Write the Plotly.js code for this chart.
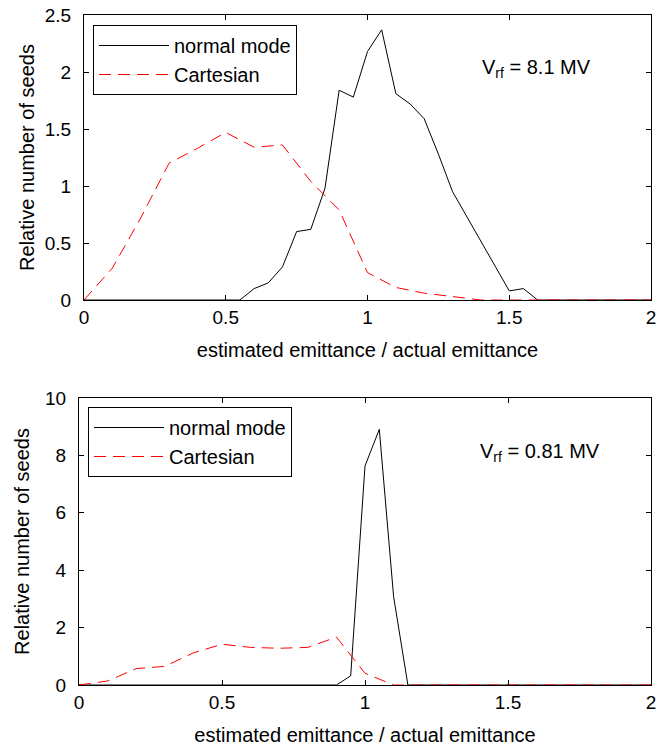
<!DOCTYPE html>
<html><head><meta charset="utf-8">
<script src="https://cdn.plot.ly/plotly-3.0.1.min.js"></script>
<style>html,body{margin:0;padding:0;background:#fff}#chart{width:657px;height:747px}</style>
</head><body><div id="chart"></div>
<script>
// ---- data ----
const xNormal = [0,0.05,0.1,0.15,0.2,0.25,0.3,0.35,0.4,0.45,0.5,0.55,0.6,0.65,0.7,0.75,0.8,0.85,0.9,0.95,1.0,1.05,1.1,1.15,1.2,1.25,1.3,1.35,1.4,1.45,1.5,1.55,1.6,1.65,1.7,1.75,1.8,1.85,1.9,1.95,2.0];
const xCart = [0,0.1,0.2,0.3,0.4,0.5,0.6,0.7,0.8,0.9,1.0,1.1,1.2,1.3,1.4,1.5,1.6,1.7,1.8,1.9,2.0];

// top panel: Vrf = 8.1 MV
const topNormal = [0,0,0,0,0,0,0,0,0,0,0,0,0.10,0.15,0.29,0.60,0.62,0.98,1.84,1.78,2.18,2.37,1.81,1.72,1.59,1.28,0.95,0.73,0.52,0.30,0.08,0.10,0,0,0,0,0,0,0,0,0];
const topCart = [0,0.28,0.72,1.20,1.33,1.47,1.34,1.36,1.04,0.79,0.24,0.11,0.06,0.03,0,0,0,0,0,0,0];

// bottom panel: Vrf = 0.81 MV
const botNormal = [0,0,0,0,0,0,0,0,0,0,0,0,0,0,0,0,0,0,0,0.32,7.63,8.91,3.08,0,0,0,0,0,0,0,0,0,0,0,0,0,0,0,0,0,0];
const botCart = [0,0.14,0.57,0.65,1.12,1.42,1.31,1.28,1.31,1.67,0.41,0,0,0,0,0,0,0,0,0,0];

const seriesNames = ['normal mode','Cartesian'];
const panelLabels = ['V<sub>rf</sub> = 8.1 MV','V<sub>rf</sub> = 0.81 MV'];
const xTitle = 'estimated emittance / actual emittance';
const yTitle = 'Relative number of seeds';
const xTicks = [0,0.5,1,1.5,2];
const topYTicks = [0,0.5,1,1.5,2,2.5];
const botYTicks = [0,2,4,6,8,10];

// ---- layout helpers ----
const W = 657, H = 747;
const px = v => v / W;
const py = v => 1 - v / H;
const FONT = '"Liberation Sans", Arial, Helvetica, sans-serif';

const blackLine = {color:'#000', width:1};
const redLine = {color:'#ff0000', width:1, dash:'12px,7px'};

const traces = [
  {x:xNormal, y:topNormal, name:seriesNames[0], mode:'lines', line:blackLine, xaxis:'x', yaxis:'y', legend:'legend'},
  {x:xCart, y:topCart, name:seriesNames[1], mode:'lines', line:redLine, xaxis:'x', yaxis:'y', legend:'legend'},
  {x:xNormal, y:botNormal, name:seriesNames[0], mode:'lines', line:blackLine, xaxis:'x2', yaxis:'y2', legend:'legend2'},
  {x:xCart, y:botCart, name:seriesNames[1], mode:'lines', line:redLine, xaxis:'x2', yaxis:'y2', legend:'legend2'}
];

function axisBase(extra){
  return Object.assign({
    showgrid:false, zeroline:false, showline:true, linecolor:'#000', linewidth:1,
    mirror:'ticks', ticks:'inside', ticklen:5, tickcolor:'#000', tickwidth:1,
    tickfont:{family:FONT, size:19, color:'#000'}, fixedrange:true, automargin:false
  }, extra);
}
const titleFont = {family:FONT, size:20, color:'#000'};

const legendBase = {
  xanchor:'left', yanchor:'top', bordercolor:'#000', borderwidth:1, bgcolor:'#fff',
  font:{family:FONT, size:20, color:'#000'}, itemwidth:70, tracegroupgap:0
};

const layout = {
  width:W, height:H, margin:{l:0,r:0,t:0,b:0},
  paper_bgcolor:'#fff', plot_bgcolor:'#fff',
  font:{family:FONT, color:'#000'},
  xaxis: axisBase({domain:[px(84),px(651)], range:[0,2], tickvals:xTicks, anchor:'y',
    title:{text:xTitle, font:titleFont, standoff:16}}),
  yaxis: axisBase({domain:[py(300),py(15)], range:[0,2.5], tickvals:topYTicks, anchor:'x', ticklabelstandoff:8,
    title:{text:yTitle, font:titleFont}}),
  xaxis2: axisBase({domain:[px(79),px(651)], range:[0,2], tickvals:xTicks, anchor:'y2',
    title:{text:xTitle, font:titleFont, standoff:16}}),
  yaxis2: axisBase({domain:[py(685),py(398)], range:[0,10], tickvals:botYTicks, anchor:'x2', ticklabelstandoff:8,
    title:{text:yTitle, font:titleFont}}),
  legend: Object.assign({}, legendBase, {x:px(93), y:py(25)}),
  legend2: Object.assign({}, legendBase, {x:px(88), y:py(407)}),
  annotations:[
    {text:panelLabels[0], xref:'paper', yref:'paper', x:px(480), y:py(68), xanchor:'left', yanchor:'middle', showarrow:false, font:titleFont},
    {text:panelLabels[1], xref:'paper', yref:'paper', x:px(478), y:py(452), xanchor:'left', yanchor:'middle', showarrow:false, font:titleFont}
  ],
  showlegend:true
};

Plotly.newPlot('chart', traces, layout, {staticPlot:true, displayModeBar:false});
</script>
</body></html>
